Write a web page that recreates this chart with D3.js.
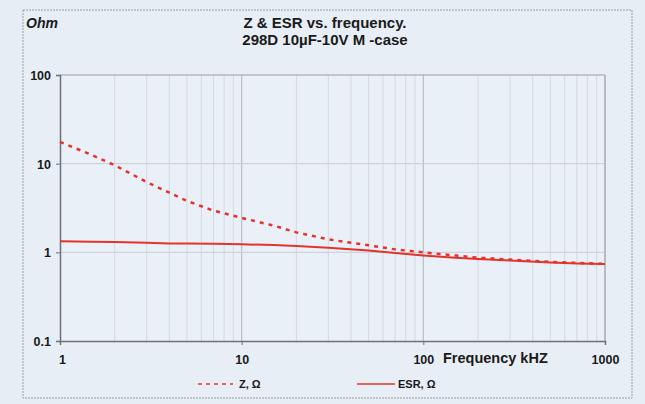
<!DOCTYPE html>
<html><head><meta charset="utf-8">
<script src="https://cdn.jsdelivr.net/npm/d3@7"></script>
<style>
html,body{margin:0;padding:0;background:#e6edf5;}
svg{display:block;font-family:"Liberation Sans",Arial,sans-serif;}
</style></head><body>
<svg id="c" width="645" height="404"></svg>
<script>
const freq = [1, 1.5, 2, 3, 4, 5, 7, 10, 15, 20, 30, 50, 70, 100, 150, 200, 300, 500, 700, 1000];
const zValues = [17.6, 12.5, 9.6, 6.2, 4.7, 3.8, 2.95, 2.45, 2.0, 1.68, 1.4, 1.2, 1.08, 1.0, 0.92, 0.87, 0.83, 0.78, 0.76, 0.74];
const esrValues = [1.33, 1.32, 1.31, 1.28, 1.26, 1.26, 1.25, 1.23, 1.21, 1.18, 1.13, 1.05, 0.98, 0.92, 0.87, 0.84, 0.81, 0.77, 0.75, 0.74];
const xTicks = [1, 10, 100, 1000];
const yTicks = [0.1, 1, 10, 100];
const seriesNames = ["Z, Ω", "ESR, Ω"];
const titleLines = ["Z & ESR vs. frequency.", "298D 10µF-10V M -case"];

const svg = d3.select("#c");
const L = 60, R = 605, T = 75, B = 341;
const x = d3.scaleLog().domain([1, 1000]).range([L, R]);
const y = d3.scaleLog().domain([0.1, 100]).range([B, T]);

// outer dashed border
svg.append("rect").attr("x", 23).attr("y", 10).attr("width", 609).attr("height", 388)
  .attr("fill", "#e8eef6").attr("stroke", "#9a9ea4").attr("stroke-width", 1).attr("stroke-dasharray", "2,1");

// plot background
svg.append("rect").attr("x", L).attr("y", T).attr("width", R - L).attr("height", B - T).attr("fill", "#eaf0f8");

// vertical grid (minor log)
const minor = [];
for (let d = 1; d < 1000; d *= 10) for (let k = 1; k <= 10; k++) minor.push(d * k);
svg.append("g").selectAll("line").data(minor.filter(v => v > 1 && v <= 1000)).join("line")
  .attr("x1", d => x(d)).attr("x2", d => x(d)).attr("y1", T).attr("y2", B)
  .attr("stroke", d => xTicks.includes(d) ? "#bcc1c8" : "#d4d9e1").attr("stroke-width", 1);
// horizontal grid
svg.append("g").selectAll("line").data(yTicks.slice(1)).join("line")
  .attr("x1", L).attr("x2", R).attr("y1", d => y(d)).attr("y2", d => y(d))
  .attr("stroke", d => d === 100 ? "#9a9ea4" : "#c8cdd5").attr("stroke-width", 1);
svg.append("line").attr("x1", R).attr("x2", R).attr("y1", T).attr("y2", B).attr("stroke", "#9a9ea4");

// axes
const yAxis = d3.axisLeft(y).tickValues(yTicks).tickFormat(d => String(d)).tickSize(4);
const gy = svg.append("g").attr("transform", `translate(${L},0)`).call(yAxis);
gy.select(".domain").attr("stroke", "#6e7175").attr("stroke-width", 1.5);
gy.selectAll(".tick line").attr("stroke", "#6e7175");
gy.selectAll("text").attr("font-size", 12.5).attr("font-weight", "bold").attr("fill", "#1a1a1a").attr("x", -9).attr("dy", "0.35em");

const xAxis = d3.axisBottom(x).tickValues(xTicks).tickFormat(d => String(d)).tickSize(4);
const gx = svg.append("g").attr("transform", `translate(0,${B})`).call(xAxis);
gx.select(".domain").attr("stroke", "#6e7175").attr("stroke-width", 1.5);
gx.selectAll(".tick line").attr("stroke", "#6e7175");
gx.selectAll("text").attr("font-size", 12.5).attr("font-weight", "bold").attr("fill", "#1a1a1a").attr("y", 14).attr("dy", "0.71em");
gx.selectAll("g.tick").filter(d => d === 1).select("text").attr("dx", 2);
svg.selectAll(".domain").attr("fill", "none");

// lines
const line = d3.line().x(d => x(d[0])).y(d => y(d[1]));
svg.append("path").datum(freq.map((f, i) => [f, esrValues[i]])).attr("d", line)
  .attr("fill", "none").attr("stroke", "#e4332b").attr("stroke-width", 2);
svg.append("path").datum(freq.map((f, i) => [f, zValues[i]])).attr("d", line)
  .attr("fill", "none").attr("stroke", "#e4332b").attr("stroke-width", 2.5).attr("stroke-dasharray", "4,5");

// texts
svg.append("text").attr("x", 26).attr("y", 28).text("Ohm")
  .attr("font-size", 14).attr("font-weight", "bold").attr("font-style", "italic").attr("fill", "#1a1a1a");
svg.selectAll("text.title").data(titleLines).join("text").attr("class", "title")
  .attr("x", 325).attr("y", (d, i) => 28 + i * 17).attr("text-anchor", "middle").text(d => d)
  .attr("font-size", 15).attr("font-weight", "bold").attr("fill", "#1a1a1a");
svg.append("text").attr("x", 443).attr("y", 363).text("Frequency kHZ")
  .attr("font-size", 14.5).attr("font-weight", "bold").attr("fill", "#1a1a1a");

// legend
const leg = svg.append("g");
leg.append("line").attr("x1", 198).attr("x2", 233).attr("y1", 384).attr("y2", 384)
  .attr("stroke", "#e4332b").attr("stroke-width", 1.5).attr("stroke-dasharray", "4,4");
leg.append("text").attr("x", 239).attr("y", 388).text(seriesNames[0])
  .attr("font-size", 11).attr("font-weight", "bold").attr("fill", "#1a1a1a");
leg.append("line").attr("x1", 357).attr("x2", 395).attr("y1", 384).attr("y2", 384)
  .attr("stroke", "#e4332b").attr("stroke-width", 1.5);
leg.append("text").attr("x", 398).attr("y", 388).text(seriesNames[1])
  .attr("font-size", 11).attr("font-weight", "bold").attr("fill", "#1a1a1a");
</script></body></html>
